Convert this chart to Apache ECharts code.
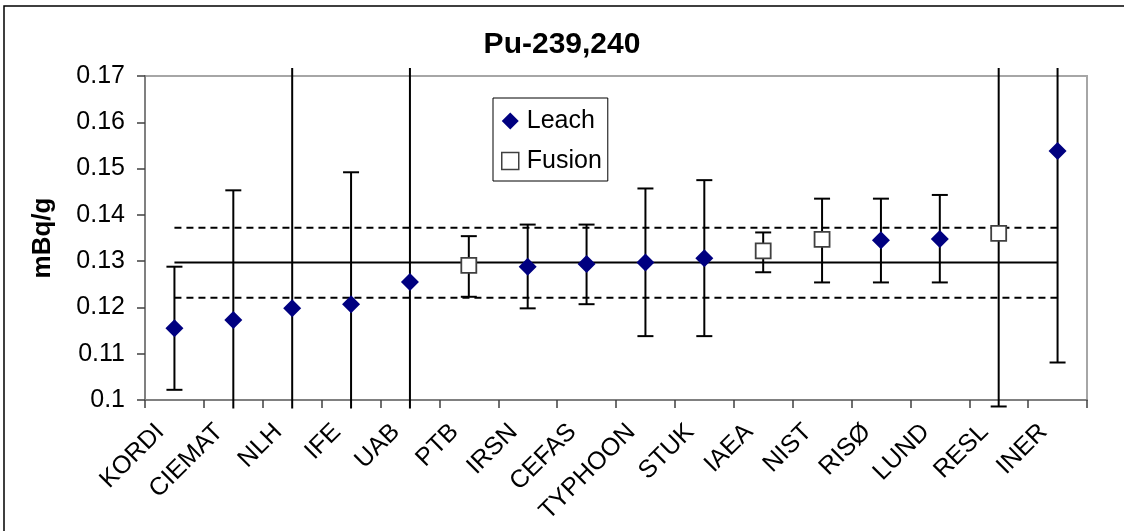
<!DOCTYPE html>
<html>
<head>
<meta charset="utf-8">
<script src="https://cdn.jsdelivr.net/npm/echarts@6/dist/echarts.min.js"></script>
<style>
  html, body { margin: 0; padding: 0; background: #fff; }
  #chart { width: 1124px; height: 531px; }
</style>
</head>
<body>
<div id="chart"></div>
<script>
// ---- data ----
const categories = ['KORDI', 'CIEMAT', 'NLH', 'IFE', 'UAB', 'PTB', 'IRSN', 'CEFAS', 'TYPHOON', 'STUK', 'IAEA', 'NIST', 'RISØ', 'LUND', 'RESL', 'INER'];
const methods    = ['L', 'L', 'L', 'L', 'L', 'F', 'L', 'L', 'L', 'L', 'F', 'F', 'L', 'L', 'F', 'L'];
const values     = [0.1155, 0.1173, 0.1198, 0.1207, 0.1255, 0.1291, 0.1288, 0.1294, 0.1297, 0.1306, 0.1322, 0.1347, 0.1345, 0.1348, 0.1360, 0.1538];
const upperBounds = [0.1288, 0.1453, 0.1800, 0.1492, 0.1850, 0.1354, 0.1379, 0.1379, 0.1457, 0.1475, 0.1362, 0.1435, 0.1435, 0.1443, 0.1734, 0.1995];
const lowerBounds = [0.1022, 0.0893, 0.0600, 0.0922, 0.0650, 0.1223, 0.1198, 0.1207, 0.1138, 0.1138, 0.1276, 0.1254, 0.1254, 0.1254, 0.0986, 0.1081];
const refMean  = 0.1297;
const refUpper = 0.1372;
const refLower = 0.1221;
const yTickLabels = ['0.1', '0.11', '0.12', '0.13', '0.14', '0.15', '0.16', '0.17'];

const leachData  = values.map((v, i) => methods[i] === 'L' ? v : '-');
const fusionData = values.map((v, i) => methods[i] === 'F' ? v : '-');
const errorData  = values.map((v, i) => [i, lowerBounds[i], upperBounds[i]]);
const meanLine   = categories.map(() => refMean);
const upperLine  = categories.map(() => refUpper);
const lowerLine  = categories.map(() => refLower);

const chart = echarts.init(document.getElementById('chart'), null, { renderer: 'canvas' });

function renderErrorBar(params, api) {
  const idx = api.value(0);
  const lo = api.coord([idx, api.value(1)]);
  const hi = api.coord([idx, api.value(2)]);
  const cs = params.coordSys;
  const minY = cs.y - 8, maxY = cs.y + cs.height + 8.5;
  const x = lo[0];
  const yTop = Math.max(hi[1], minY);
  const yBot = Math.min(lo[1], maxY);
  const cap = 8;
  const style = { stroke: '#000', lineWidth: 2 };
  const children = [{ type: 'line', shape: { x1: x, y1: yTop, x2: x, y2: yBot }, style }];
  if (hi[1] >= minY) children.push({ type: 'line', shape: { x1: x - cap, y1: hi[1], x2: x + cap, y2: hi[1] }, style });
  if (lo[1] <= maxY) children.push({ type: 'line', shape: { x1: x - cap, y1: lo[1], x2: x + cap, y2: lo[1] }, style });
  return { type: 'group', children };
}

const option = {
  animation: false,
  backgroundColor: '#fff',
  title: {
    text: 'Pu-239,240',
    left: 'center',
    top: 25,
    textStyle: { fontFamily: 'Liberation Sans, Arial', fontSize: 30, fontWeight: 'bold', color: '#000' }
  },
  graphic: [{
    type: 'rect', silent: true, z: -1,
    shape: { x: 4, y: 6, width: 1300, height: 700 },
    style: { fill: 'none', stroke: '#000', lineWidth: 1.5 }
  }],
  legend: {
    orient: 'vertical',
    left: 493,
    top: 98,
    padding: [9, 6, 6, 8],
    itemWidth: 17,
    itemHeight: 17,
    itemGap: 12,
    borderColor: '#000',
    borderWidth: 1,
    backgroundColor: '#fff',
    textStyle: { fontFamily: 'Liberation Sans, Arial', fontSize: 25, color: '#000', lineHeight: 28, padding: [0, 0, 0, 3] },
    data: [
      { name: 'Leach', icon: 'diamond' },
      { name: 'Fusion', icon: 'rect', itemStyle: { borderWidth: 1.5 } }
    ]
  },
  grid: {
    left: 145, top: 76, width: 942, height: 324,
    show: true, borderColor: '#a6a6a6', borderWidth: 2, backgroundColor: 'transparent'
  },
  xAxis: {
    type: 'category',
    data: categories,
    boundaryGap: true,
    axisLine: { lineStyle: { color: '#808080', width: 2 } },
    axisTick: { show: true, length: 8, alignWithLabel: false, interval: 0, lineStyle: { color: '#404040', width: 1.5 } },
    axisLabel: {
      interval: 0, rotate: 45, margin: 14, padding: [0, 20, 0, 0],
      fontFamily: 'Liberation Sans, Arial', fontSize: 25, color: '#000'
    },
    splitLine: { show: false }
  },
  yAxis: {
    type: 'value',
    min: 0.1, max: 0.17, interval: 0.01,
    name: 'mBq/g',
    nameLocation: 'middle',
    nameGap: 89,
    nameRotate: 90,
    nameTextStyle: { fontFamily: 'Liberation Sans, Arial', fontSize: 26, fontWeight: 'bold', color: '#000' },
    axisLine: { show: true, lineStyle: { color: '#808080', width: 2 } },
    axisTick: { show: true, length: 8, lineStyle: { color: '#404040', width: 1.5 } },
    axisLabel: {
      margin: 20,
      fontFamily: 'Liberation Sans, Arial', fontSize: 25, color: '#000',
      formatter: v => yTickLabels[Math.round((v - 0.1) / 0.01)]
    },
    splitLine: { show: false }
  },
  series: [
    { name: 'mean', type: 'line', data: meanLine, symbol: 'none', silent: true, z: 1,
      lineStyle: { color: '#000', width: 2 } },
    { name: 'upper', type: 'line', data: upperLine, symbol: 'none', silent: true, z: 1,
      lineStyle: { color: '#000', width: 2, type: [7, 5] } },
    { name: 'lower', type: 'line', data: lowerLine, symbol: 'none', silent: true, z: 1,
      lineStyle: { color: '#000', width: 2, type: [7, 5] } },
    { name: 'err', type: 'custom', data: errorData, renderItem: renderErrorBar, clip: false, z: 2,
      encode: { x: 0, y: [1, 2] } },
    { name: 'Leach', type: 'scatter', data: leachData, symbol: 'diamond', symbolSize: [18, 18], z: 3,
      itemStyle: { color: '#000080', opacity: 1 } },
    { name: 'Fusion', type: 'scatter', data: fusionData, symbol: 'rect', symbolSize: 15, z: 3,
      itemStyle: { color: '#fff', borderColor: '#404040', borderWidth: 1.8, opacity: 1 } }
  ]
};
chart.setOption(option);
</script>
</body>
</html>
